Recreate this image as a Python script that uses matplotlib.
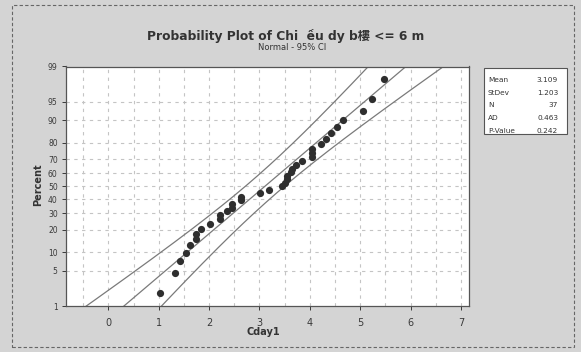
import matplotlib
matplotlib.use("Agg")
import matplotlib.pyplot as plt
from matplotlib.patches import Rectangle
from statistics import NormalDist
import numpy as np

# -------------------------
# Data
# -------------------------
cday1 = [1.03, 1.32, 1.42, 1.54, 1.63, 1.74, 1.74, 1.83, 2.02, 2.22,
         2.22, 2.35, 2.45, 2.45, 2.63, 2.63, 3.02, 3.19, 3.44, 3.51,
         3.54, 3.54, 3.63, 3.64, 3.72, 3.84, 4.04, 4.04, 4.05, 4.23,
         4.33, 4.43, 4.53, 4.65, 5.05, 5.24, 5.47]
mean_val = 3.109
std_val = 1.203
n_val = 37
ad_val = 0.463
p_val = 0.242

percent_ticks = [1, 5, 10, 20, 30, 40, 50, 60, 70, 80, 90, 95, 99]
x_ticks = [0, 1, 2, 3, 4, 5, 6, 7]

title = "Probability Plot of Chi  ều dy b樓 <= 6 m"
subtitle = "Normal - 95% CI"

nd = NormalDist()
def z(pct):
    return nd.inv_cdf(pct / 100.0)

# median-rank plotting positions, as Minitab does
ranks = np.arange(1, len(cday1) + 1)
plot_pos = (ranks - 0.3) / (len(cday1) + 0.4) * 100
y_pts = [z(p) for p in plot_pos]

# fitted line and 95% CI bands
zz = np.linspace(-2.8, 2.8, 200)
fit_x = mean_val + zz * std_val
se = std_val * np.sqrt(1.0 / n_val + zz**2 / (2.0 * n_val))
lo_x = fit_x - 1.96 * se
hi_x = fit_x + 1.96 * se

fig = plt.figure(figsize=(5.81, 3.52), dpi=100, facecolor="#d4d4d4")
W, H = 581.0, 352.0
ax = fig.add_axes([66 / W, 1 - 306 / H, (469 - 66) / W, (306 - 66.5) / H])
ax.set_facecolor("white")

grid_kw = dict(color="#c4c4c4", linestyle=(0, (3, 4)), linewidth=0.8, zorder=0)
for gx in np.arange(-0.5, 7.5, 0.5):
    ax.axvline(gx, **grid_kw)
for p in percent_ticks[1:-1]:
    ax.axhline(z(p), **grid_kw)

ax.plot(fit_x, zz, color="#7a7a7a", linewidth=0.9, zorder=2)
ax.plot(lo_x, zz, color="#7a7a7a", linewidth=0.9, zorder=2)
ax.plot(hi_x, zz, color="#7a7a7a", linewidth=0.9, zorder=2)
ax.scatter(cday1, y_pts, s=27, color="#2e2e2e", zorder=3, linewidths=0)

ax.set_xlim(-0.84, 7.16)
ax.set_ylim(z(1), z(99))
ax.set_xticks(x_ticks)
ax.set_xticklabels([str(t) for t in x_ticks])
ax.set_yticks([z(p) for p in percent_ticks])
ax.set_yticklabels([str(p) for p in percent_ticks])
ax.tick_params(axis="x", labelsize=7, colors="#3a3a3a", length=3, width=0.7, pad=6)
ax.tick_params(axis="y", labelsize=5.5, colors="#3a3a3a", length=3, width=0.7, pad=3)
for s in ax.spines.values():
    s.set_color("#555555")
    s.set_linewidth(0.9)

fig.text(286 / W, 1 - 36 / H, title, ha="center", va="center",
         fontsize=8.8, fontweight="bold", color="#333333",
         family=["DejaVu Sans", "Noto Sans CJK SC"])
fig.text(292 / W, 1 - 48 / H, subtitle, ha="center", va="center",
         fontsize=6, color="#333333")
fig.text(38 / W, 1 - 185 / H, "Percent", rotation=90, ha="center", va="center",
         fontsize=7, fontweight="bold", color="#333333")
fig.text(263 / W, 1 - 332 / H, "Cday1", ha="center", va="center",
         fontsize=7, fontweight="bold", color="#333333")

# stats box
fig.patches.append(Rectangle((484 / W, 1 - 134 / H), 83 / W, 66 / H,
                             transform=fig.transFigure, facecolor="white",
                             edgecolor="#555555", linewidth=0.8))
rows = [("Mean", f"{mean_val:.3f}"), ("StDev", f"{std_val:.3f}"),
        ("N", f"{n_val}"), ("AD", f"{ad_val:.3f}"), ("P-Value", f"{p_val:.3f}")]
for i, (lab, val) in enumerate(rows):
    yy = 1 - (80 + i * 12.7) / H
    fig.text(488 / W, yy, lab, ha="left", va="center", fontsize=5.3, color="#333333")
    fig.text(558 / W, yy, val, ha="right", va="center", fontsize=5.3, color="#333333")

# outer graph frame
fig.patches.append(Rectangle((12 / W, 1 - 347 / H), 562 / W, 342 / H,
                             transform=fig.transFigure, fill=False,
                             edgecolor="#666666", linewidth=0.8,
                             linestyle=(0, (3, 2))))

fig.savefig("out.png", dpi=100, facecolor=fig.get_facecolor())
